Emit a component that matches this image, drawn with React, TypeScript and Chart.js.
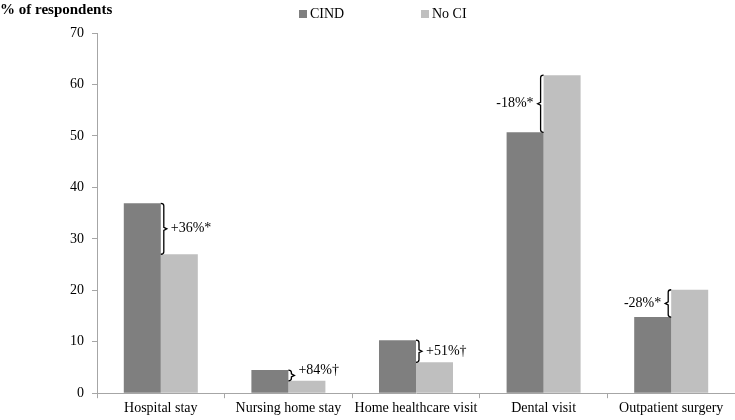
import React, { useEffect, useRef } from "react";
import { Chart, registerables } from "chart.js";

Chart.register(...registerables);

const categories = ["Hospital stay", "Nursing home stay", "Home healthcare visit", "Dental visit", "Outpatient surgery"];
const cindValues = [36.9, 4.5, 10.3, 50.7, 14.8];
const noCiValues = [27.0, 2.4, 6.0, 61.8, 20.1];
const diffLabels = ["+36%*", "+84%\u2020", "+51%\u2020", "-18%*", "-28%*"];
const diffSides = ["right", "right", "right", "left", "left"];
const seriesNames = ["CIND", "No CI"];
const seriesColors = ["#7f7f7f", "#bfbfbf"];

const FONT = "'Liberation Serif', 'Times New Roman', serif";

const overlayPlugin = {
  id: "overlay",
  afterDatasetsDraw(chart: any) {
    const ctx = chart.ctx;
    const y = chart.scales.y;
    const m0 = chart.getDatasetMeta(0);
    const m1 = chart.getDatasetMeta(1);
    ctx.save();
    ctx.strokeStyle = "#000";
    ctx.lineWidth = 1.3;
    ctx.fillStyle = "#000";
    ctx.font = `14px ${FONT}`;
    ctx.textBaseline = "middle";
    for (let i = 0; i < categories.length; i++) {
      const b0 = m0.data[i];
      const b1 = m1.data[i];
      const yA = y.getPixelForValue(cindValues[i]);
      const yB = y.getPixelForValue(noCiValues[i]);
      const top = Math.min(yA, yB);
      const bot = Math.max(yA, yB);
      const mid = (top + bot) / 2;
      const right = diffSides[i] === "right";
      const dir = right ? 1 : -1;
      const x = right ? b0.x + b0.width / 2 + 3 : b1.x - b1.width / 2 - 3;
      ctx.beginPath();
      ctx.moveTo(x - 3 * dir, top);
      ctx.quadraticCurveTo(x, top, x, top + 2.5);
      ctx.lineTo(x, mid - 1.5);
      ctx.lineTo(x + 3 * dir, mid);
      ctx.lineTo(x, mid + 1.5);
      ctx.lineTo(x, bot - 2.5);
      ctx.quadraticCurveTo(x, bot, x - 3 * dir, bot);
      ctx.stroke();
      ctx.textAlign = right ? "left" : "right";
      const ty = bot - top < 20 ? top : mid;
      ctx.fillText(diffLabels[i], x + 7 * dir, ty);
    }
    // title
    ctx.font = `bold 15px ${FONT}`;
    ctx.textAlign = "left";
    ctx.textBaseline = "middle";
    ctx.fillText("% of respondents", 0, 10);
    // legend
    ctx.font = `14px ${FONT}`;
    const legendX = [299, 421];
    for (let s = 0; s < 2; s++) {
      ctx.fillStyle = seriesColors[s];
      ctx.fillRect(legendX[s], 10, 8, 8);
      ctx.fillStyle = "#000";
      ctx.fillText(seriesNames[s], legendX[s] + 11, 14);
    }
    ctx.restore();
  },
};

export default function App() {
  const ref = useRef<HTMLCanvasElement>(null);
  useEffect(() => {
    document.body.style.margin = "0";
    const chart = new Chart(ref.current as HTMLCanvasElement, {
      type: "bar",
      data: {
        labels: categories,
        datasets: [
          { label: seriesNames[0], data: cindValues, backgroundColor: seriesColors[0] },
          { label: seriesNames[1], data: noCiValues, backgroundColor: seriesColors[1] },
        ],
      },
      options: {
        animation: false,
        responsive: false,
        devicePixelRatio: 1,
        layout: { padding: { top: 33, right: 0, left: 0, bottom: 1 } },
        plugins: { legend: { display: false }, title: { display: false }, tooltip: { enabled: false } },
        datasets: { bar: { barPercentage: 1, categoryPercentage: 0.58 } },
        scales: {
          x: {
            grid: { display: true, drawOnChartArea: false, offset: true, tickLength: 5, color: "#a6a6a6" },
            border: { color: "#a6a6a6" },
            ticks: { color: "#000", font: { family: FONT, size: 14 }, padding: 2, maxRotation: 0 },
          },
          y: {
            min: 0,
            max: 70,
            grid: { display: true, drawOnChartArea: false, tickLength: 5, color: "#a6a6a6" },
            border: { color: "#a6a6a6" },
            ticks: { stepSize: 10, color: "#000", font: { family: FONT, size: 14 }, padding: 8 },
            afterFit(scale: any) { scale.width = 97; },
          },
        },
      },
      plugins: [overlayPlugin],
    } as any);
    return () => chart.destroy();
  }, []);
  return (
    <div style={{ position: "fixed", left: 0, top: 0, width: 735, height: 420 }}>
      <canvas ref={ref} width={735} height={420} style={{ width: 735, height: 420 }} />
    </div>
  );
}
